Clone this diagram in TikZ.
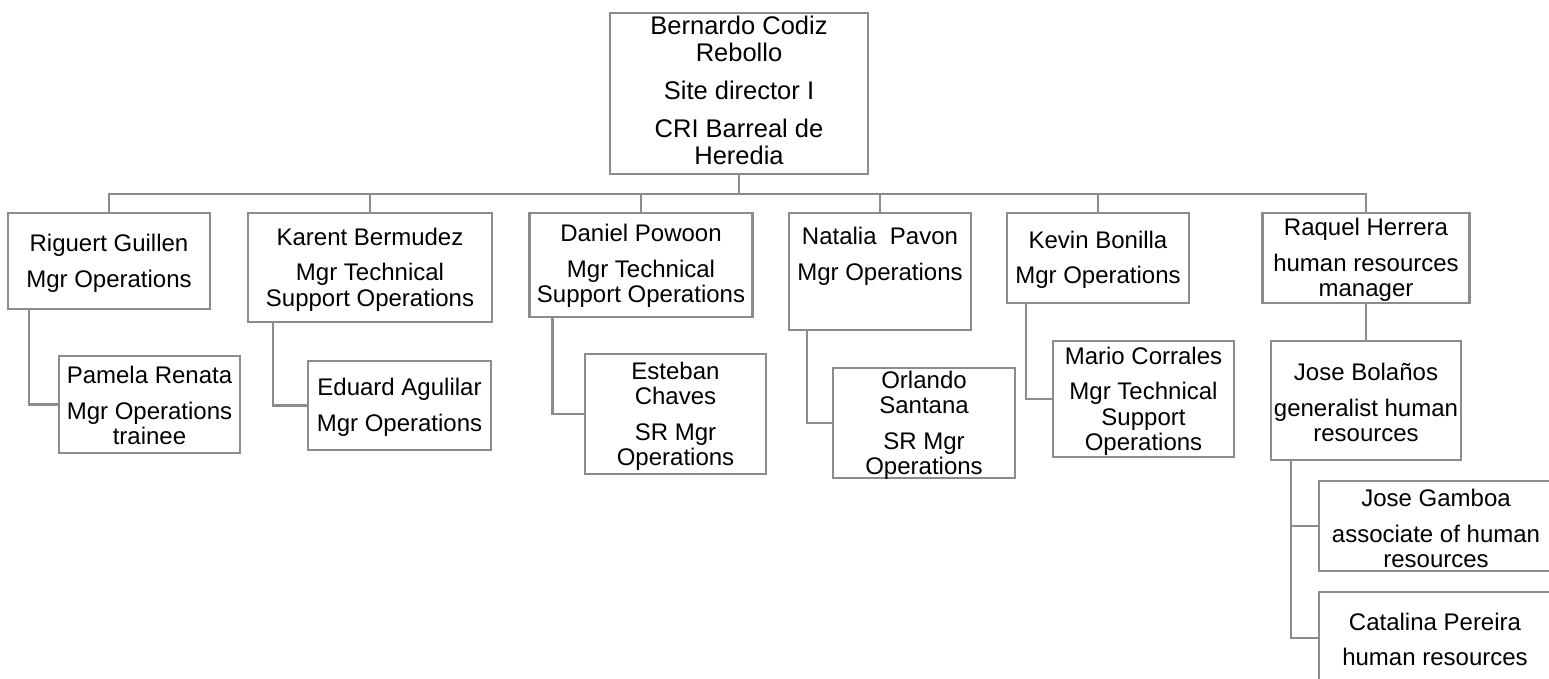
\documentclass[tikz,border=0pt]{standalone}
\usepackage{fontspec}
\setmainfont{Liberation Sans}
\definecolor{linegray}{RGB}{140,140,140}
\begin{document}
\begin{tikzpicture}[x=1pt,y=-1pt,
  box/.style={draw=linegray,line width=2.6pt,inner sep=0pt,outer sep=0pt,fill=white},
  txt/.style={align=center,inner sep=0pt,font=\fontsize{24}{25.5}\selectfont},
  toptxt/.style={align=center,inner sep=0pt,font=\fontsize{25.5}{27}\selectfont},
  conn/.style={draw=linegray,line width=2.6pt}]
\useasboundingbox (0,0) rectangle (1549,678);
\clip (0,0) rectangle (1549,678);

% boxes
\node[box,minimum width=258pt,minimum height=161pt] (top) at (739,93.5) {};
\node[box,minimum width=202pt,minimum height=96pt]  (rig) at (109,261) {};
\node[box,minimum width=244pt,minimum height=109pt] (kar) at (370,267.5) {};
\node[box,minimum width=223pt,minimum height=104pt] (dan) at (641,265) {};
\node[box,minimum width=182pt,minimum height=117pt] (nat) at (880,271.5) {};
\node[box,minimum width=182pt,minimum height=90pt]  (kev) at (1098,258) {};
\node[box,minimum width=207pt,minimum height=90pt]  (raq) at (1366,258) {};
\node[box,minimum width=181pt,minimum height=97pt]  (pam) at (149.5,404.5) {};
\node[box,minimum width=183pt,minimum height=89pt]  (edu) at (399.5,405.5) {};
\node[box,minimum width=181pt,minimum height=120pt] (est) at (675.5,414) {};
\node[box,minimum width=182pt,minimum height=110pt] (orl) at (924,423) {};
\node[box,minimum width=181pt,minimum height=116pt] (mar) at (1143.5,399) {};
\node[box,minimum width=190pt,minimum height=119pt] (bol) at (1366,400.5) {};
\node[box,minimum width=234pt,minimum height=90pt]  (gam) at (1436,526) {};
\node[box,minimum width=234pt,minimum height=92pt]  (cat) at (1436,638) {};

% texts
\node[toptxt] (ttop) at (739,90) {Bernardo Codiz\\Rebollo\\[11pt]Site director I\\[11pt]CRI Barreal de\\Heredia};
\node[txt] (trig) at (109,263.5) {Riguert Guillen\\[10pt]Mgr Operations};
\node[txt] (tkar) at (370,269.5) {Karent Bermudez\\[10pt]Mgr Technical\\Support Operations};
\node[txt] (tdan) at (641,266) {Daniel Powoon\\[10pt]Mgr Technical\\Support Operations};
\node[txt] (tnat) at (880,256.5) {Natalia\ \ Pavon\\[10pt]Mgr Operations};
\node[txt] (tkev) at (1098,260) {Kevin Bonilla\\[10pt]Mgr Operations};
\node[txt] (traq) at (1366,260) {Raquel Herrera\\[10pt]human resources\\manager};
\node[txt] (tpam) at (149.5,405.5) {Pamela Renata\\[10pt]Mgr Operations\\trainee};
\node[txt] (tedu) at (399.5,407.5) {Eduard Agulilar\\[10pt]Mgr Operations};
\node[txt] (test) at (675.5,416.5) {Esteban\\Chaves\\[10pt]SR Mgr\\Operations};
\node[txt] (torl) at (924,425.5) {Orlando\\Santana\\[10pt]SR Mgr\\Operations};
\node[txt] (tmar) at (1143.5,401.5) {Mario Corrales\\[10pt]Mgr Technical\\Support\\Operations};
\node[txt] (tbol) at (1366,402.5) {Jose Bolaños\\[10pt]generalist human\\resources};
\node[txt] (tgam) at (1436,528.5) {Jose Gamboa\\[10pt]associate of human\\resources};
\node[txt] (tcat) at (1435,639.5) {Catalina Pereira\\[10pt]human resources};

% connectors
\coordinate (bus) at (739,194);
\draw[conn] (top.south) -- (bus);
\draw[conn] (rig.north) |- (bus) -| (raq.north);
\draw[conn] (kar.north) -- (kar.north |- bus);
\draw[conn] (dan.north) -- (dan.north |- bus);
\draw[conn] (nat.north) -- (nat.north |- bus);
\draw[conn] (kev.north) -- (kev.north |- bus);

\draw[conn] ([xshift=21pt]rig.south west) |- (pam.west);
\draw[conn] ([xshift=25pt]kar.south west) |- (edu.west);
\draw[conn] ([xshift=23pt]dan.south west) |- (est.west);
\draw[conn] ([xshift=18pt]nat.south west) |- (orl.west);
\draw[conn] ([xshift=19pt]kev.south west) |- (mar.west);
\draw[conn] (raq.south) -- (bol.north);
\draw[conn] ([xshift=20pt]bol.south west) |- (gam.west);
\draw[conn] ([xshift=20pt]bol.south west) |- (cat.west);
\end{tikzpicture}
\end{document}
